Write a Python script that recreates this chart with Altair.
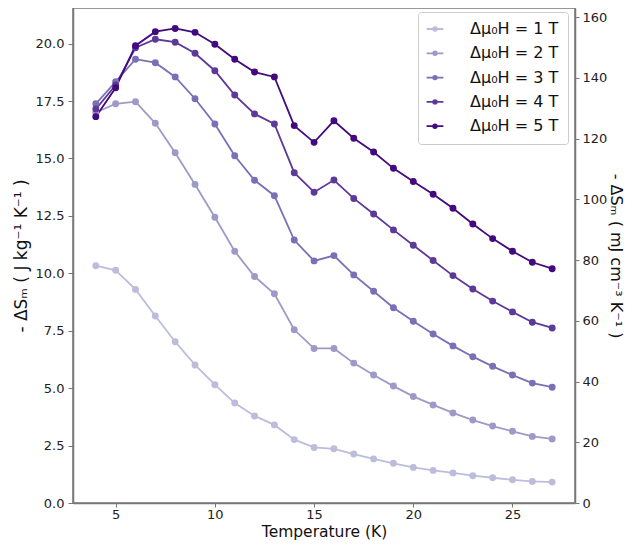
import altair as alt
import pandas as pd

temperature = list(range(4, 28))
s1 = [10.33, 10.13, 9.30, 8.14, 7.02, 6.01, 5.15, 4.35, 3.79, 3.40, 2.76, 2.42,
      2.36, 2.13, 1.92, 1.73, 1.55, 1.42, 1.31, 1.19, 1.10, 1.01, 0.94, 0.91]
s2 = [17.00, 17.38, 17.47, 16.53, 15.25, 13.87, 12.44, 10.96, 9.86, 9.11, 7.54, 6.73,
      6.73, 6.09, 5.57, 5.09, 4.64, 4.27, 3.92, 3.61, 3.35, 3.12, 2.90, 2.79]
s3 = [17.38, 18.34, 19.32, 19.17, 18.55, 17.60, 16.50, 15.12, 14.05, 13.38, 11.45, 10.54,
      10.77, 9.93, 9.22, 8.50, 7.91, 7.36, 6.84, 6.37, 5.95, 5.57, 5.22, 5.04]
s4 = [17.15, 18.20, 19.82, 20.19, 20.06, 19.58, 18.82, 17.76, 16.94, 16.50, 14.38, 13.53,
      14.06, 13.26, 12.58, 11.89, 11.22, 10.56, 9.90, 9.32, 8.79, 8.32, 7.87, 7.62]
s5 = [16.82, 18.08, 19.91, 20.52, 20.66, 20.49, 19.97, 19.32, 18.76, 18.55, 16.43, 15.70,
      16.64, 15.88, 15.28, 14.57, 14.00, 13.44, 12.83, 12.15, 11.51, 10.96, 10.48, 10.20]

series_labels = ["Δμ₀H = 1 T", "Δμ₀H = 2 T", "Δμ₀H = 3 T", "Δμ₀H = 4 T", "Δμ₀H = 5 T"]
series_colors = ["#bcbddc", "#9e9ac8", "#7b6fb5", "#5e3a98", "#430a7f"]
density = 7.565  # conversion J/kg/K -> mJ/cm^3/K

left_ticks = [0, 2.5, 5, 7.5, 10, 12.5, 15, 17.5, 20]
right_ticks = [0, 20, 40, 60, 80, 100, 120, 140, 160]
x_ticks = [5, 10, 15, 20, 25]

rows = []
for lab, vals in zip(series_labels, [s1, s2, s3, s4, s5]):
    for t, v in zip(temperature, vals):
        rows.append({"T": t, "dS": v, "series": lab})
df = pd.DataFrame(rows)

FONT = "DejaVu Sans"
symbol_path = "M-2.1,0L2.1,0M0.45,0A0.45,0.45 0 1,1 -0.45,0A0.45,0.45 0 1,1 0.45,0Z"

legend = alt.Legend(
    title=None, orient="none", legendX=345, legendY=4,
    symbolType=symbol_path, symbolSize=64, symbolStrokeWidth=1.8,
    labelFontSize=16, labelFont=FONT, labelColor="#111", labelOffset=27,
    fillColor="white", strokeColor="#cccccc", cornerRadius=3, padding=9,
    rowPadding=8.3,
)
color_scale = alt.Scale(domain=series_labels, range=series_colors)

x_enc = alt.X("T:Q", scale=alt.Scale(domain=[2.85, 28.15], nice=False, zero=False),
              axis=alt.Axis(values=x_ticks, title="Temperature (K)", grid=False,
                            titleFontSize=15.5, tickSize=4, labelPadding=1,
                            titleY=33, titleBaseline="alphabetic"))
y_enc = alt.Y("dS:Q", scale=alt.Scale(domain=[0, 21.55], nice=False),
              axis=alt.Axis(values=left_ticks, format=".1f", grid=False,
                            title="- ΔSₘ ( J kg⁻¹ K⁻¹ )", titleFontSize=17,
                            tickSize=5, labelPadding=4, titlePadding=5))

base = alt.Chart(df)
lines = base.mark_line(strokeWidth=1.8).encode(
    x=x_enc, y=y_enc,
    stroke=alt.Stroke("series:N", scale=color_scale, legend=legend),
)
points = base.mark_point(filled=True, size=48, opacity=1).encode(
    x=x_enc, y=y_enc,
    fill=alt.Fill("series:N", scale=color_scale, legend=legend),
)

right = base.transform_calculate(dv=f"datum.dS * {density}").mark_point(opacity=0).encode(
    x=x_enc,
    y=alt.Y("dv:Q", scale=alt.Scale(domain=[0, 163.0], nice=False),
            axis=alt.Axis(orient="right", values=right_ticks, grid=False,
                          title="- ΔSₘ ( mJ cm⁻³ K⁻¹ )", titleFontSize=16,
                          tickSize=4, labelPadding=3, titlePadding=1)),
)

chart = alt.layer(alt.layer(lines, points), right).resolve_scale(y="independent").properties(
    width=502, height=495,
    autosize=alt.AutoSizeParams(type="none"),
    padding={"left": 65, "top": 0, "right": 50, "bottom": 37},
).configure_view(stroke="#777777", strokeWidth=1.5).configure_axis(
    labelFont=FONT, titleFont=FONT, labelFontSize=13, labelColor="#222",
    titleColor="#111", titleFontWeight="normal",
    domainColor="#777777", domainWidth=1.5, tickColor="#777777",
)

chart.save("out.html", embed_options={"renderer": "svg", "actions": False})
